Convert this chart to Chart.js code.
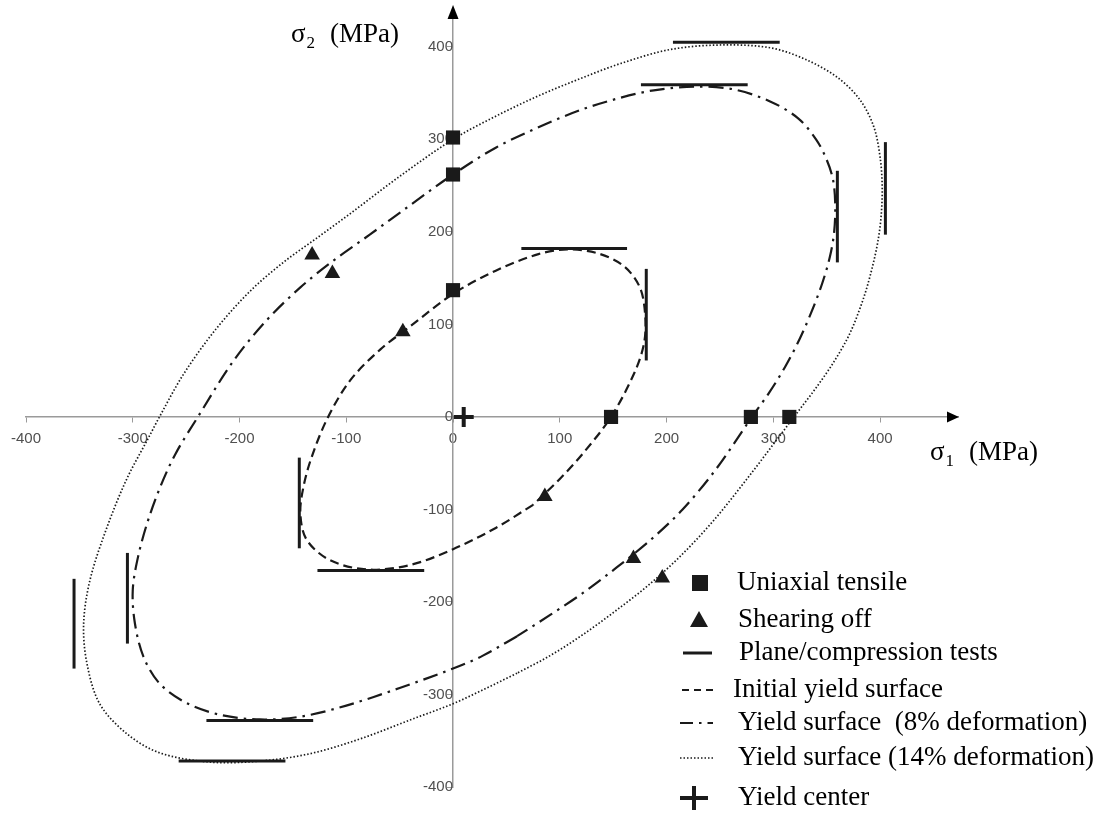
<!DOCTYPE html>
<html>
<head>
<meta charset="utf-8">
<title>Yield surfaces</title>
<script src="https://cdn.jsdelivr.net/npm/chart.js@4.4.1/dist/chart.umd.min.js"></script>
<style>
  html, body { margin: 0; padding: 0; background: #fff; }
  #wrap { position: relative; width: 1109px; height: 816px; }
</style>
</head>
<body>
<div id="wrap"><canvas id="yieldChart"></canvas></div>
<script>
// all values in MPa (sigma_1 on x, sigma_2 on y)
const tensileX = [0, 0, 0, 148, 279, 315];
const tensileY = [302, 262, 137, 0, 0, 0];

const shearX = [-132, -113, -47, 86, 169, 196];
const shearY = [175, 155, 92, -86, -153, -174];

const centerX = [10];
const centerY = [0];

// plane/compression tests: horizontal bars (y, x from, x to), vertical bars (x, y from, y to)
const hBarY  = [405, 359, 182, -166, -328, -372];
const hBarX1 = [206, 176, 64, -127, -231, -257];
const hBarX2 = [306, 276, 163, -27, -131, -157];
const vBarX  = [405, 360, 181, -144, -305, -355];
const vBarY1 = [197, 167, 61, -142, -245, -272];
const vBarY2 = [297, 266, 160, -44, -147, -175];

// yield surfaces, traced round each loop
const initialX = [75, 40, 0, -40, -80, -115, -137, -143, -140, -132, -117, -96, -68, -40, 0, 40, 80, 107, 135, 160,
  175, 180, 179, 170, 148, 122, 100, 75];
const initialY = [-95, -120, -143, -160, -165, -155, -133, -105, -75, -42, 0, 40, 73, 98, 133, 158, 176, 181, 177, 163,
  140, 110, 80, 48, 0, -39, -67, -95];

const def8X = [60, 28, 0, -50, -100, -143, -181, -218, -250, -275, -290, -298, -300, -295, -286, -274, -260, -239, -206, -175,
  -143, -112, -78, -40, 0, 40, 80, 120, 157, 188, 228, 263, 297, 323, 340, 350, 356, 358, 357, 353,
  346, 337, 325, 311, 296, 280, 246, 215, 185, 153, 122, 91, 60];
const def8Y = [-237, -258, -272, -293, -312, -324, -327, -322, -309, -288, -259, -223, -187, -151, -113, -75, -40, 0, 60, 104,
  140, 169, 197, 229, 262, 291, 313, 332, 345, 353, 357, 354, 341, 323, 300, 278, 256, 230, 200, 173,
  145, 117, 85, 54, 26, 0, -57, -100, -133, -163, -190, -214, -237];

const def14X = [60, 28, 0, -39, -87, -134, -181, -228, -275, -306, -331, -343, -346, -340, -325, -306, -285, -275, -252, -222,
  -190, -159, -128, -96, -50, 0, 40, 80, 120, 157, 203, 250, 297, 331, 360, 381, 394, 400, 402, 401,
  398, 393, 385, 372, 357, 341, 324, 303, 280, 247, 216, 185, 153, 122, 91, 60];
const def14Y = [-277, -295, -310, -327, -348, -364, -372, -373, -363, -342, -310, -266, -223, -176, -122, -68, -22, 0, 47, 95,
  136, 167, 193, 220, 260, 300, 325, 347, 366, 382, 397, 402, 399, 386, 367, 343, 314, 281, 249, 217,
  190, 163, 130, 91, 60, 33, 7, -25, -60, -108, -147, -180, -209, -235, -258, -277];

const legendLabels = ['Uniaxial tensile', 'Shearing off', 'Plane/compression tests', 'Initial yield surface',
  'Yield surface  (8% deformation)', 'Yield surface (14% deformation)', 'Yield center'];

const INK = '#1a1a1a';
const SERIF = '"Liberation Serif", "Times New Roman", serif';

const toPoints = (xs, ys) => xs.map((x, i) => ({x: x, y: ys[i]}));

const markerSet = (label, xs, ys, style, radius, width) => ({
  label: label,
  data: toPoints(xs, ys),
  showLine: false,
  pointStyle: style,
  pointRadius: radius,
  pointHoverRadius: radius,
  pointBackgroundColor: INK,
  pointBorderColor: INK,
  pointBorderWidth: width
});

const curveSet = (label, xs, ys, dash, width) => ({
  label: label,
  data: toPoints(xs, ys),
  showLine: true,
  borderColor: INK,
  borderWidth: width,
  borderDash: dash,
  pointRadius: 0,
  tension: 0.33,
  fill: false
});

const barSet = (pts) => ({
  label: 'Plane/compression tests',
  data: pts,
  showLine: true,
  borderColor: INK,
  borderWidth: 3,
  pointRadius: 0,
  tension: 0
});

const datasets = [
  markerSet('Uniaxial tensile', tensileX, tensileY, 'rect', 10, 0),
  markerSet('Shearing off', shearX, shearY, 'triangle', 9, 0),
  markerSet('Yield center', centerX, centerY, 'cross', 10, 4)
];
hBarY.forEach((y, i) => datasets.push(barSet([{x: hBarX1[i], y: y}, {x: hBarX2[i], y: y}])));
vBarX.forEach((x, i) => datasets.push(barSet([{x: x, y: vBarY1[i]}, {x: x, y: vBarY2[i]}])));
datasets.push(curveSet('Initial yield surface', initialX, initialY, [9, 5], 2.2));
datasets.push(curveSet('Yield surface (8% deformation)', def8X, def8Y, [15, 6, 2.5, 6], 2.2));
datasets.push(curveSet('Yield surface (14% deformation)', def14X, def14Y, [1.5, 2], 1.7));

// arrows, axis titles and the legend block
function drawSigma(ctx, x, base, sub) {
  ctx.font = '27px ' + SERIF;
  ctx.fillText('\u03c3', x, base);
  const w = ctx.measureText('\u03c3').width;
  ctx.font = '17px ' + SERIF;
  ctx.fillText(sub, x + w + 1, base + 6);
  ctx.font = '27px ' + SERIF;
  ctx.fillText('(MPa)', x + 39, base);
}

const extras = {
  id: 'extras',
  afterDraw(chart) {
    const {ctx, chartArea, scales} = chart;
    const ox = scales.x.getPixelForValue(0);
    const oy = scales.y.getPixelForValue(0);
    ctx.save();
    ctx.fillStyle = '#000';
    ctx.beginPath();
    ctx.moveTo(chartArea.right + 1, oy);
    ctx.lineTo(chartArea.right - 11, oy - 5.5);
    ctx.lineTo(chartArea.right - 11, oy + 5.5);
    ctx.closePath();
    ctx.fill();
    ctx.beginPath();
    ctx.moveTo(ox, oy - 412);
    ctx.lineTo(ox - 5.5, oy - 398);
    ctx.lineTo(ox + 5.5, oy - 398);
    ctx.closePath();
    ctx.fill();

    ctx.fillStyle = '#000';
    ctx.textAlign = 'left';
    ctx.textBaseline = 'alphabetic';
    drawSigma(ctx, ox - 162, oy - 375, '2');
    drawSigma(ctx, ox + 477, oy + 43, '1');

    // legend
    const rowY = [583, 620, 653, 690, 723, 758, 798];
    const textX = [737, 738, 739, 733, 738, 738, 738];
    ctx.fillStyle = INK;
    ctx.strokeStyle = INK;
    ctx.fillRect(692, rowY[0] - 8, 16, 16);
    ctx.beginPath();
    ctx.moveTo(699, rowY[1] - 9);
    ctx.lineTo(708, rowY[1] + 7);
    ctx.lineTo(690, rowY[1] + 7);
    ctx.closePath();
    ctx.fill();
    const lineRow = (y, x1, x2, dash, w) => {
      ctx.beginPath();
      ctx.setLineDash(dash);
      ctx.lineWidth = w;
      ctx.moveTo(x1, y);
      ctx.lineTo(x2, y);
      ctx.stroke();
    };
    lineRow(rowY[2], 683, 712, [], 3);
    lineRow(rowY[3], 682, 718, [7, 5], 2);
    lineRow(rowY[4], 680, 713, [13, 6, 2.5, 6], 2);
    lineRow(rowY[5], 680, 713, [1.5, 2], 1.5);
    lineRow(rowY[6], 680, 708, [], 4);
    ctx.setLineDash([]);
    ctx.beginPath();
    ctx.lineWidth = 4;
    ctx.moveTo(694, rowY[6] - 12);
    ctx.lineTo(694, rowY[6] + 12);
    ctx.stroke();

    ctx.fillStyle = '#000';
    ctx.font = '27px ' + SERIF;
    ctx.textBaseline = 'middle';
    legendLabels.forEach((t, i) => ctx.fillText(t, textX[i], rowY[i]));
    ctx.restore();
  }
};

const axisTicks = {
  stepSize: 100,
  includeBounds: false,
  autoSkip: false,
  maxRotation: 0,
  color: '#505050',
  font: {family: '"Liberation Sans", Arial, sans-serif', size: 15}
};

new Chart(document.getElementById('yieldChart'), {
  type: 'scatter',
  data: {datasets: datasets},
  options: {
    responsive: true,
    maintainAspectRatio: false,
    animation: false,
    layout: {padding: {left: 26, right: 151, top: 20, bottom: 29}},
    plugins: {
      legend: {display: false},
      tooltip: {enabled: false}
    },
    scales: {
      x: {
        type: 'linear',
        min: -400,
        max: 473,
        position: {y: 0},
        border: {color: '#9a9a9a', width: 1.5},
        grid: {drawOnChartArea: false, drawTicks: true, tickLength: 5, color: '#9a9a9a'},
        ticks: Object.assign({padding: 8}, axisTicks)
      },
      y: {
        type: 'linear',
        min: -400,
        max: 429,
        position: {x: 0},
        border: {color: '#9a9a9a', width: 1.5},
        grid: {drawOnChartArea: false, drawTicks: true, tickLength: 5, color: '#9a9a9a'},
        ticks: Object.assign({padding: 10}, axisTicks)
      }
    }
  },
  plugins: [extras]
});
</script>
</body>
</html>
